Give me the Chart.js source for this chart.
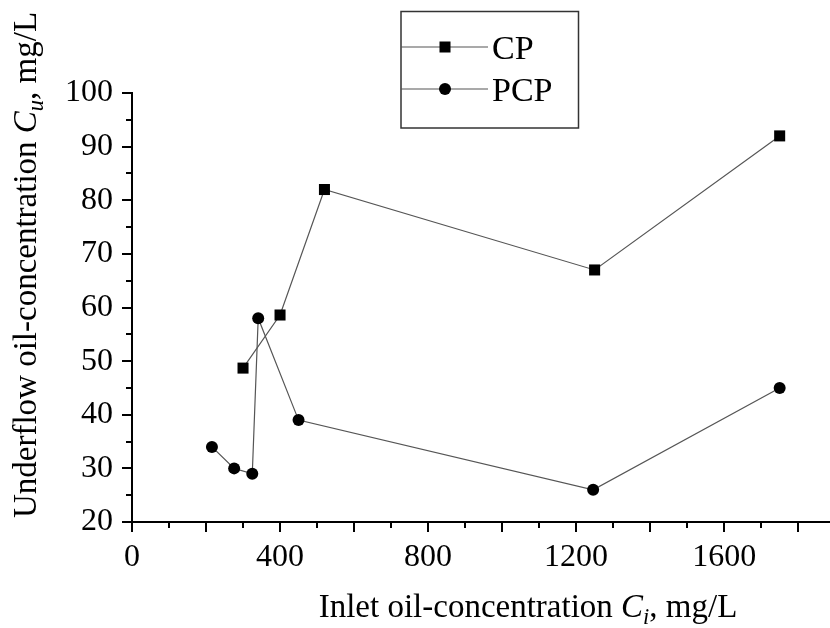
<!DOCTYPE html>
<html>
<head>
<meta charset="utf-8">
<script src="https://cdn.jsdelivr.net/npm/chart.js@4"></script>
<style>
  html, body { margin: 0; padding: 0; background: #fff; }
  #chart { display: block; }
</style>
</head>
<body>
<canvas id="chart" width="830" height="628"></canvas>
<script>
// Data
const cpInlet = [300, 400, 520, 1250, 1750];
const cpUnder = [48.7, 58.6, 82, 67, 92];
const pcpInlet = [216, 276, 325, 341, 450, 1246, 1750];
const pcpUnder = [34, 30, 29, 58, 39, 26, 45];
const seriesNames = ['CP', 'PCP'];
const xLabelTicks = [0, 400, 800, 1200, 1600];

const SERIF = '"Liberation Serif", "Times New Roman", serif';

function toPoints(xs, ys) {
    return xs.map((x, i) => ({ x: x, y: ys[i] }));
}

// draw a run of text pieces, some italic / subscript
function drawRich(ctx, parts, x, y, size) {
    let cx = x;
    parts.forEach(p => {
        const fs = p.sub ? size * 0.68 : size;
        ctx.font = (p.italic ? 'italic ' : '') + fs + 'px ' + SERIF;
        ctx.fillText(p.t, cx, y + (p.sub ? size * 0.2 : 0));
        cx += ctx.measureText(p.t).width;
    });
    return cx - x;
}

function richWidth(ctx, parts, size) {
    let w = 0;
    parts.forEach(p => {
        const fs = p.sub ? size * 0.68 : size;
        ctx.font = (p.italic ? 'italic ' : '') + fs + 'px ' + SERIF;
        w += ctx.measureText(p.t).width;
    });
    return w;
}

// minor ticks, axis titles and boxed legend
const decorPlugin = {
    id: 'decor',
    afterDraw(chart) {
        const ctx = chart.ctx;
        const xs = chart.scales.x;
        const ys = chart.scales.y;
        ctx.save();
        ctx.strokeStyle = '#000';
        ctx.lineWidth = 2;
        // minor ticks
        for (let v = 100; v <= xs.max; v += 200) {
            const px = Math.round(xs.getPixelForValue(v));
            ctx.beginPath();
            ctx.moveTo(px, xs.top);
            ctx.lineTo(px, xs.top + 6);
            ctx.stroke();
        }
        for (let v = 25; v < ys.max; v += 10) {
            const py = Math.round(ys.getPixelForValue(v));
            ctx.beginPath();
            ctx.moveTo(ys.right, py);
            ctx.lineTo(ys.right - 6, py);
            ctx.stroke();
        }

        // axis titles
        ctx.fillStyle = '#000';
        ctx.textBaseline = 'alphabetic';
        const xt = [
            { t: 'Inlet oil-concentration ' },
            { t: 'C', italic: true },
            { t: 'i', italic: true, sub: true },
            { t: ', mg/L' }
        ];
        const xw = richWidth(ctx, xt, 33);
        drawRich(ctx, xt, 528 - xw / 2, 617, 33);

        const yt = [
            { t: 'Underflow oil-concentration ' },
            { t: 'C', italic: true },
            { t: 'u', italic: true, sub: true },
            { t: ', mg/L' }
        ];
        const yw = richWidth(ctx, yt, 33);
        ctx.save();
        ctx.translate(36, 265);
        ctx.rotate(-Math.PI / 2);
        drawRich(ctx, yt, -yw / 2, 0, 33);
        ctx.restore();

        // legend box
        ctx.strokeStyle = '#333';
        ctx.lineWidth = 1.5;
        ctx.strokeRect(401, 11.5, 177.5, 116.5);
        const rows = [47, 89];
        chart.data.datasets.forEach((ds, i) => {
            const ry = rows[i];
            ctx.strokeStyle = ds.borderColor;
            ctx.lineWidth = ds.borderWidth;
            ctx.beginPath();
            ctx.moveTo(401, ry);
            ctx.lineTo(488, ry);
            ctx.stroke();
            ctx.fillStyle = '#000';
            if (ds.pointStyle === 'rect') {
                ctx.fillRect(445 - 5.5, ry - 5.5, 11, 11);
            } else {
                ctx.beginPath();
                ctx.arc(445, ry, 6, 0, Math.PI * 2);
                ctx.fill();
            }
            ctx.font = '34px ' + SERIF;
            ctx.fillText(ds.label, 492, ry + 12);
        });
        ctx.restore();
    }
};

const ctx = document.getElementById('chart').getContext('2d');
new Chart(ctx, {
    type: 'scatter',
    data: {
        datasets: [
            {
                label: seriesNames[0],
                data: toPoints(cpInlet, cpUnder),
                showLine: true,
                borderColor: '#555',
                borderWidth: 1.2,
                backgroundColor: '#000',
                pointStyle: 'rect',
                pointRadius: 7.8,
                pointBorderWidth: 0,
                pointHoverRadius: 7.8
            },
            {
                label: seriesNames[1],
                data: toPoints(pcpInlet, pcpUnder),
                showLine: true,
                borderColor: '#555',
                borderWidth: 1.2,
                backgroundColor: '#000',
                pointStyle: 'circle',
                pointRadius: 6,
                pointBorderWidth: 0,
                pointHoverRadius: 6
            }
        ]
    },
    options: {
        responsive: false,
        animation: false,
        devicePixelRatio: 1,
        layout: { autoPadding: false, padding: { top: 93, right: 0, left: 0, bottom: 0 } },
        plugins: {
            legend: { display: false },
            tooltip: { enabled: false }
        },
        scales: {
            x: {
                type: 'linear',
                min: 0,
                max: 1886,
                afterFit: s => { s.height = 106; s.paddingRight = 0; s.paddingLeft = 0; },
                border: { color: '#000', width: 2 },
                grid: { display: true, drawOnChartArea: false, drawTicks: true, tickLength: 10, color: '#000', lineWidth: 2 },
                ticks: {
                    stepSize: 200,
                    includeBounds: false,
                    autoSkip: false,
                    maxRotation: 0,
                    padding: 6,
                    color: '#000',
                    font: { family: SERIF, size: 32 },
                    callback: v => xLabelTicks.includes(v) ? String(v) : ''
                }
            },
            y: {
                type: 'linear',
                min: 20,
                max: 100,
                afterFit: s => { s.width = 132; s.paddingTop = 0; s.paddingBottom = 0; },
                border: { color: '#000', width: 2 },
                grid: { display: true, drawOnChartArea: false, drawTicks: true, tickLength: 10, color: '#000', lineWidth: 2 },
                ticks: {
                    stepSize: 10,
                    padding: 9,
                    color: '#000',
                    font: { family: SERIF, size: 32 }
                }
            }
        }
    },
    plugins: [decorPlugin]
});
</script>
</body>
</html>
